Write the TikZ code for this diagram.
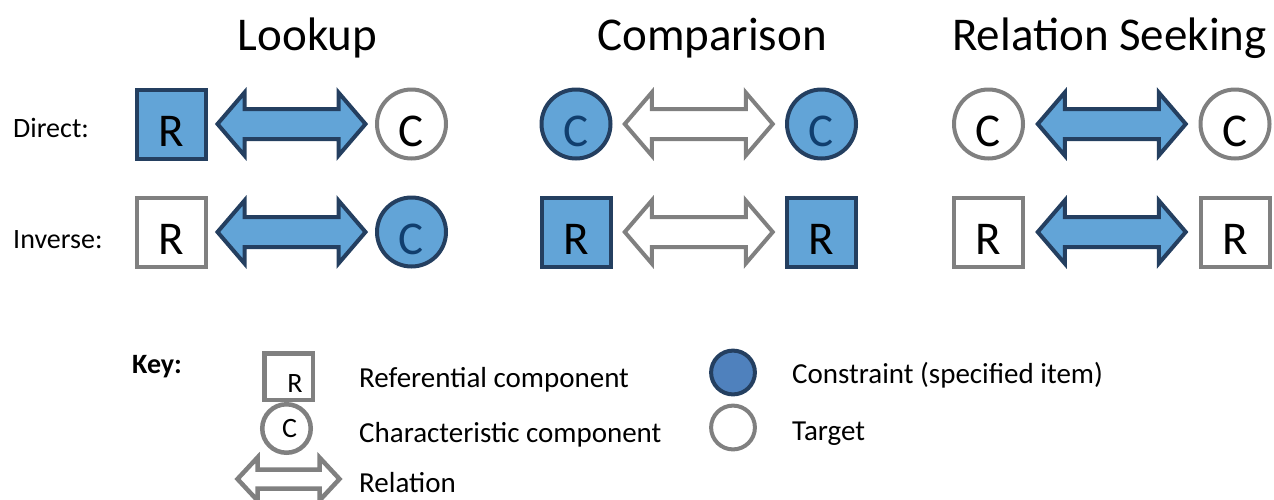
\documentclass[tikz,border=0pt]{standalone}
\usepackage{fontspec}
\setmainfont{Carlito}
\usetikzlibrary{calc}
\definecolor{fillblue}{RGB}{98,164,215}
\definecolor{keyblue}{RGB}{79,129,189}
\definecolor{navy}{RGB}{36,63,96}
\definecolor{letterblue}{RGB}{16,62,110}
\definecolor{midgray}{RGB}{128,128,128}
\newcommand{\relarrow}[7]{%
  \path ($(#2)!0.5!(#3)$) coordinate (m);
  \draw[#1] ($(m)+(-#4,0)$) -- ($(m)+({-#4+#5},-#6)$) -- ($(m)+({-#4+#5},-#7)$)
    -- ($(m)+({#4-#5},-#7)$) -- ($(m)+({#4-#5},-#6)$) -- ($(m)+(#4,0)$)
    -- ($(m)+({#4-#5},#6)$) -- ($(m)+({#4-#5},#7)$) -- ($(m)+({-#4+#5},#7)$)
    -- ($(m)+({-#4+#5},#6)$) -- cycle;}
\begin{document}
\begin{tikzpicture}[x=1pt,y=-1pt]
\tikzstyle{title} = [font=\fontsize{47}{56}\selectfont, anchor=base]
\tikzstyle{rowname} = [font=\fontsize{28}{34}\selectfont, anchor=base west, inner sep=0pt]
\tikzstyle{keytext} = [font=\fontsize{29}{35}\selectfont, anchor=base west, inner sep=0pt]
\tikzstyle{shapebox} = [line width=4pt, minimum size=69pt, inner sep=0pt, font=\fontsize{47}{56}\selectfont, text height=44pt, text depth=0pt]
\tikzstyle{sq} = [shapebox, rectangle]
\tikzstyle{rnd} = [shapebox, circle]
\tikzstyle{given} = [fill=fillblue, draw=navy]
\tikzstyle{sought} = [fill=white, draw=midgray]
\tikzstyle{relfull} = [fill=fillblue, draw=navy, line width=4pt]
\tikzstyle{relempty} = [fill=white, draw=midgray, line width=4pt]
\def\alen{74}
\def\ahead{27}
\def\ahalf{31.5}
\def\ashaft{15}

\useasboundingbox (0,0) rectangle (1274,499);

\node[title] (tlook) at (307.5,50) {Lookup};
\node[title] (tcomp) at (712,50) {Comparison};
\node[title] (trel) at (1109.5,50) {Relation Seeking};
\node[rowname] (ndir) at (13,137) {Direct:};
\node[rowname] (ninv) at (13,248) {Inverse:};

% lookup
\node[sq, given] (lr1) at (171.5,124) {R};
\node[rnd, sought] (lc1) at (411.5,124) {C};
\node[sq, sought] (lr2) at (171.5,232) {R};
\node[rnd, given, text=letterblue] (lc2) at (411.5,232) {C};
\relarrow{relfull}{lr1}{lc1}{\alen}{\ahead}{\ahalf}{\ashaft}
\relarrow{relfull}{lr2}{lc2}{\alen}{\ahead}{\ahalf}{\ashaft}

% comparison
\node[rnd, given, text=letterblue] (cc1) at (576,124) {C};
\node[rnd, given, text=letterblue] (cc2) at (821.5,124) {C};
\node[sq, given] (cr1) at (576,232) {R};
\node[sq, given] (cr2) at (821.5,232) {R};
\relarrow{relempty}{cc1}{cc2}{\alen}{\ahead}{\ahalf}{\ashaft}
\relarrow{relempty}{cr1}{cr2}{\alen}{\ahead}{\ahalf}{\ashaft}

% relation seeking
\node[rnd, sought] (sc1) at (988.5,124) {C};
\node[rnd, sought] (sc2) at (1235,124) {C};
\node[sq, sought] (sr1) at (988.5,232) {R};
\node[sq, sought] (sr2) at (1235,232) {R};
\relarrow{relfull}{sc1}{sc2}{\alen}{\ahead}{\ahalf}{\ashaft}
\relarrow{relfull}{sr1}{sr2}{\alen}{\ahead}{\ahalf}{\ashaft}

% key
\node[keytext, font=\bfseries\fontsize{28}{34}\selectfont] (key) at (132,373) {Key:};
\node[sq, sought, minimum width=48.5pt, minimum height=46.5pt, line width=4.5pt, font=\fontsize{28}{34}\selectfont, text height=31pt] (kr) at (288.5,376.5) {\hspace*{13pt}R};
\node[rnd, sought, minimum size=48.5pt, line width=4.5pt, font=\fontsize{28}{34}\selectfont, text height=18pt] (kc) at (286.5,428.5) {\hspace*{6pt}C};
\coordinate (kal) at (237.5,479);
\coordinate (kar) at (339.5,479);
\relarrow{relempty, line width=4.5pt}{kal}{kar}{51}{20}{21.5}{9.5}
\node[rnd, fill=keyblue, draw=navy, minimum size=43pt] (kgiven) at (733,372.5) {};
\node[rnd, sought, minimum size=43pt] (ksought) at (733,427.5) {};
\node[keytext] (lref) at (359,387) {Referential component};
\node[keytext] (lchar) at (359,442) {Characteristic component};
\node[keytext] (lrel) at (359,492) {Relation};
\node[keytext] (lcons) at (792,383) {Constraint (specified item)};
\node[keytext] (ltarg) at (792,440) {Target};
\end{tikzpicture}
\end{document}
